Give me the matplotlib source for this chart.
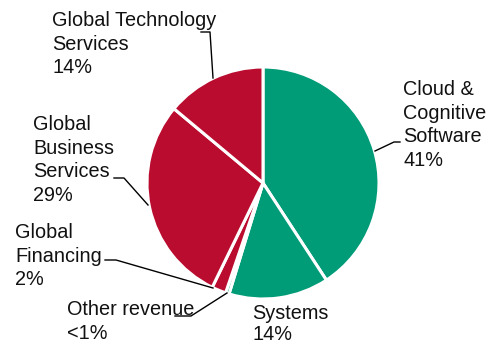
import matplotlib.pyplot as plt

# Revenue split by segment, clockwise from 12 o'clock
segments = ["Cloud & Cognitive Software", "Systems", "Other revenue",
            "Global Financing", "Global Business Services", "Global Technology Services"]
shares = [41, 14, 0.5, 2, 29, 14]
share_text = ["41%", "14%", "<1%", "2%", "29%", "14%"]

green = "#009b77"
red = "#ba0c2f"
colors = [green, green, green, red, red, red]

W, H = 489, 345
fig = plt.figure(figsize=(W / 100, H / 100), dpi=100)
ax = fig.add_axes([0, 0, 1, 1])

ax.pie(shares, colors=colors, startangle=90, counterclock=False,
       center=(263, H - 183), radius=116,
       wedgeprops=dict(edgecolor="white", linewidth=2.2))

# pie() resets the limits, so set the pixel frame afterwards
ax.set_xlim(0, W)
ax.set_ylim(0, H)
ax.set_aspect("equal")
ax.axis("off")

plt.rcParams["font.family"] = ["Liberation Sans", "DejaVu Sans"]
fs = 14.3

# label blocks: (text, left x, top y in pixel coords from the top, line spacing)
labels = [
    ("Cloud &\nCognitive\nSoftware\n" + share_text[0], 403, 80, 1.31),
    ("Systems\n" + share_text[1], 252, 304, 1.12),
    ("Other revenue\n" + share_text[2], 67, 300, 1.31),
    ("Global\nFinancing\n" + share_text[3], 15, 223, 1.31),
    ("Global\nBusiness\nServices\n" + share_text[4], 33, 115, 1.31),
    ("Global Technology\nServices\n" + share_text[5], 52, 11, 1.31),
]
for txt, x, y, ls in labels:
    ax.text(x, H - y, txt, fontsize=fs, ha="left", va="top",
            linespacing=ls, color="#111111")

# leader lines
leaders = [
    [(400, 142), (394, 142), (375, 151)],
    [(105, 260), (116, 260), (213, 288)],
    [(175, 316), (191, 316), (227, 293)],
    [(114, 178), (124, 178), (148, 205)],
    [(201, 32), (210, 32), (213, 78)],
]
for pts in leaders:
    xs = [p[0] for p in pts]
    ys = [H - p[1] for p in pts]
    ax.plot(xs, ys, color="black", linewidth=1)

fig.savefig("out.png", dpi=100)
